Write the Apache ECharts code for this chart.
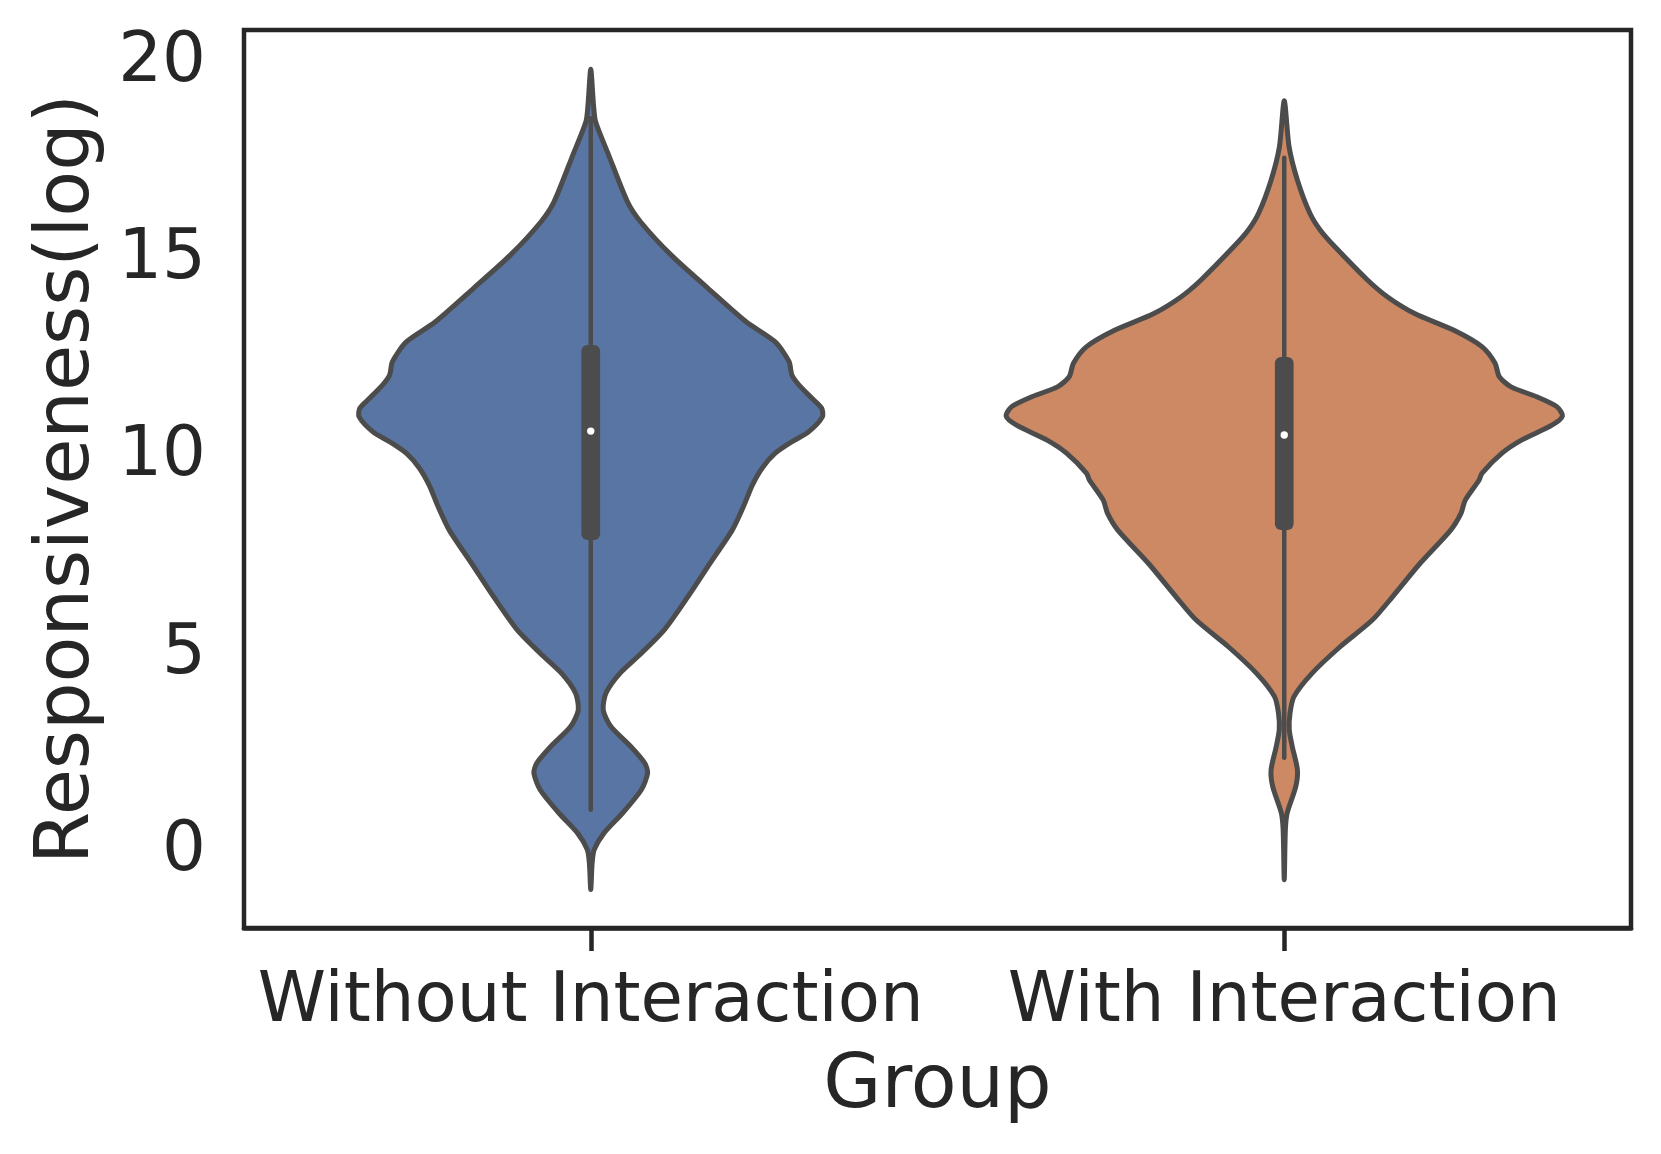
<!DOCTYPE html>
<html>
<head>
<meta charset="utf-8">
<title>Responsiveness by group</title>
<script src="https://cdn.jsdelivr.net/npm/echarts@6/dist/echarts.min.js"></script>
<style>
  html, body { margin: 0; padding: 0; background: #fff; }
  #chart { width: 1661px; height: 1154px; }
</style>
</head>
<body>
<div id="chart"></div>
<script>
const categories = ['Without Interaction', 'With Interaction'];
const yTicks = [0, 5, 10, 15, 20];

// violin outlines: level (log value) and half width in category units
const withoutLevels = [-0.95, -0.28, 0.06, 0.48, 0.99, 1.58, 2.0, 2.25, 2.67, 3.18, 3.6, 4.03, 4.53, 5.04,
  5.63, 6.47, 7.32, 8.16, 8.75, 9.3, 9.73, 10.11, 10.4, 10.65, 11.03, 11.25, 11.5, 11.84, 12.09, 12.43,
  12.93, 13.44, 14.29, 15.13, 15.97, 16.48, 17.66, 18.51, 18.93, 19.84];
const withoutHalfWidth = [0, 0.002, 0.005, 0.019, 0.046, 0.073, 0.082, 0.078, 0.058, 0.029, 0.018, 0.022, 0.042, 0.073,
  0.106, 0.14, 0.172, 0.204, 0.22, 0.233, 0.247, 0.266, 0.29, 0.314, 0.334, 0.333, 0.319, 0.3, 0.29, 0.286,
  0.266, 0.224, 0.169, 0.116, 0.072, 0.053, 0.026, 0.007, 0.004, 0];

const withLevels = [-0.7, 0.56, 0.99, 1.66, 2.08, 2.67, 3.1, 3.52, 3.94, 4.53, 5.21, 5.88, 6.47, 7.32, 8.16,
  8.59, 8.92, 9.43, 9.6, 10.11, 10.44, 10.82, 11.05, 11.29, 11.54, 11.79, 12.05, 12.39, 12.81, 13.23,
  13.65, 14.07, 14.5, 15.34, 15.76, 16.19, 17.03, 17.87, 19.04];
const withHalfWidth = [0, 0.0016, 0.0042, 0.0166, 0.019, 0.0116, 0.0072, 0.0083, 0.014, 0.04, 0.081, 0.127, 0.156, 0.196, 0.24,
  0.255, 0.261, 0.281, 0.285, 0.314, 0.342, 0.386, 0.401, 0.393, 0.364, 0.327, 0.31, 0.304, 0.285, 0.244,
  0.188, 0.149, 0.12, 0.073, 0.052, 0.037, 0.019, 0.007, 0];

// inner box per group
const whiskerLow = [1.07, 2.39];
const q1 = [7.91, 8.16];
const median = [10.67, 10.57];
const q3 = [12.85, 12.55];
const whiskerHigh = [18.6, 17.6];

const fills = ['#5975a4', '#cc8963'];
const lineGray = '#4c4c4c';
const ink = '#262626';
const font = 'DejaVu Sans';

const profiles = [
  { levels: withoutLevels, half: withoutHalfWidth },
  { levels: withLevels, half: withHalfWidth }
];

function renderViolin(params, api) {
  const idx = api.value(0);
  const prof = profiles[idx];
  const band = api.size([1, 0])[0];
  const cx = api.coord([idx, 0])[0];
  const right = [];
  const left = [];
  for (let i = 0; i < prof.levels.length; i++) {
    const y = api.coord([idx, prof.levels[i]])[1];
    const w = prof.half[i] * band;
    right.push([cx + w, y]);
    if (w > 0) left.unshift([cx - w, y]);
  }
  const points = right.concat(left);
  const yq1 = api.coord([idx, q1[idx]])[1];
  const yq3 = api.coord([idx, q3[idx]])[1];
  const boxW = 18.7;
  return {
    type: 'group',
    children: [
      {
        type: 'polygon',
        shape: { points: points, smooth: 0.25 },
        style: { fill: fills[idx], stroke: lineGray, lineWidth: 5, lineJoin: 'round' }
      },
      {
        type: 'line',
        shape: {
          x1: cx, y1: api.coord([idx, whiskerLow[idx]])[1],
          x2: cx, y2: api.coord([idx, whiskerHigh[idx]])[1]
        },
        style: { stroke: lineGray, lineWidth: 4.5, lineCap: 'round' }
      },
      {
        type: 'rect',
        shape: { x: cx - boxW / 2, y: yq3, width: boxW, height: yq1 - yq3, r: 6 },
        style: { fill: lineGray }
      },
      {
        type: 'circle',
        shape: { cx: cx, cy: api.coord([idx, median[idx]])[1], r: 3.7 },
        style: { fill: '#ffffff' }
      }
    ]
  };
}

const chart = echarts.init(document.getElementById('chart'), null, { renderer: 'canvas' });

chart.setOption({
  animation: false,
  backgroundColor: '#ffffff',
  grid: {
    left: 244, right: 30, top: 30, bottom: 226,
    show: true, borderColor: ink, borderWidth: 4.5, backgroundColor: 'transparent',
    outerBoundsMode: 'none'
  },
  xAxis: {
    type: 'category',
    data: categories,
    boundaryGap: true,
    axisLine: { show: true, onZero: false, lineStyle: { color: ink, width: 4.5 } },
    axisTick: { show: true, alignWithLabel: true, interval: 0, length: 23, lineStyle: { color: ink, width: 4.5 } },
    axisLabel: { interval: 0, hideOverlap: false, margin: 41, fontSize: 69, color: ink, fontFamily: font },
    splitLine: { show: false },
    name: 'Group',
    nameLocation: 'middle',
    nameGap: 122,
    nameTextStyle: { fontSize: 75, color: ink, fontFamily: font }
  },
  yAxis: {
    type: 'value',
    min: -1.925,
    max: 20.836,
    axisLine: { show: false },
    axisTick: { customValues: yTicks, length: 23, lineStyle: { color: ink, width: 4.5 } },
    axisLabel: { customValues: yTicks, margin: 38, fontSize: 69, color: ink, fontFamily: font, padding: [14, 0, 0, 0] },
    splitLine: { show: false },
    name: 'Responsiveness(log)',
    nameLocation: 'middle',
    nameRotate: 90,
    nameGap: 138,
    nameTextStyle: { fontSize: 75, color: ink, fontFamily: font }
  },
  series: [
    {
      type: 'custom',
      renderItem: renderViolin,
      clip: false,
      encode: { x: 0, y: 1 },
      data: [[0, median[0]], [1, median[1]]]
    }
  ]
});
</script>
</body>
</html>
